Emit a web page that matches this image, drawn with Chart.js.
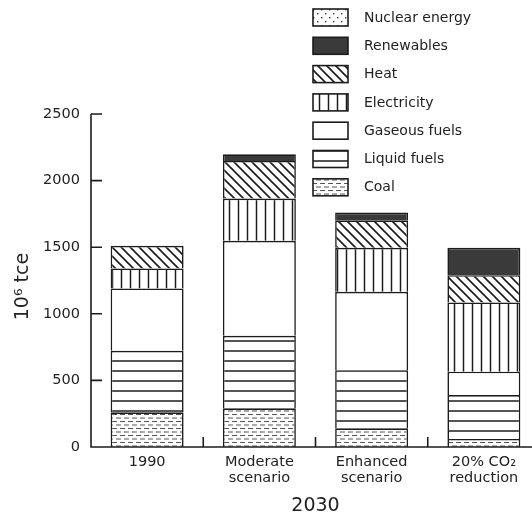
<!DOCTYPE html>
<html><head><meta charset="utf-8">
<script src="https://cdn.jsdelivr.net/npm/chart.js@4/dist/chart.umd.min.js"></script>
<style>
html,body{margin:0;padding:0;background:#fff;overflow:hidden;width:532px;height:516px}
#wrap{position:relative;width:548px;height:516px}
</style></head><body><div id="wrap"><canvas id="c" width="548" height="516"></canvas></div>
<script>
// ---- data ----
const categories = [['1990'], ['Moderate', 'scenario'], ['Enhanced', 'scenario'], ['20% CO\u2082', 'reduction']];
const coal = [260, 290, 140, 60];
const liquidFuels = [462, 545, 437, 330];
const gaseousFuels = [468, 713, 588, 175];
const electricity = [150, 317, 330, 520];
const heat = [170, 283, 207, 205];
const renewables = [0, 49, 58, 205];
const nuclearEnergy = [0, 0, 0, 0];
const yTicks = [0, 500, 1000, 1500, 2000, 2500];
const seriesLabels = ['Coal', 'Liquid fuels', 'Gaseous fuels', 'Electricity', 'Heat', 'Renewables', 'Nuclear energy'];
const seriesData = [coal, liquidFuels, gaseousFuels, electricity, heat, renewables, nuclearEnergy];
const xTitle = '2030';
const yTitle = '10\u2076 tce\u00a0\u00a0';

// ---- patterns ----
const INK = '#1c1c1c';
function makePattern(w, h, draw) {
  const c = document.createElement('canvas');
  c.width = w; c.height = h;
  const g = c.getContext('2d');
  g.fillStyle = '#fff'; g.fillRect(0, 0, w, h);
  draw(g, w, h);
  return g.createPattern(c, 'repeat');
}
const ctx0 = document.getElementById('c').getContext('2d');
const patCoal = makePattern(8, 7, (g) => {
  g.strokeStyle = '#555'; g.lineWidth = 1;
  g.beginPath();
  g.moveTo(0, 1.5); g.lineTo(5, 1.5);
  g.moveTo(4, 5); g.lineTo(8, 5); g.moveTo(0, 5); g.lineTo(1, 5);
  g.stroke();
});
const patLiquid = makePattern(10, 10, (g) => {
  g.strokeStyle = INK; g.lineWidth = 1.5;
  g.beginPath(); g.moveTo(0, 1); g.lineTo(10, 1); g.stroke();
});
const patElec = makePattern(9, 10, (g) => {
  g.strokeStyle = INK; g.lineWidth = 1.5;
  g.beginPath(); g.moveTo(4.5, 0); g.lineTo(4.5, 10); g.stroke();
});
const patHeat = makePattern(9, 9, (g) => {
  g.strokeStyle = INK; g.lineWidth = 1.6;
  g.beginPath();
  g.moveTo(-1, -1); g.lineTo(10, 10);
  g.moveTo(-1, 8); g.lineTo(1, 10);
  g.moveTo(8, -1); g.lineTo(10, 1);
  g.stroke();
});
const patNuclear = makePattern(8, 8, (g) => {
  g.fillStyle = '#333';
  g.fillRect(1, 1, 1.4, 1.4);
  g.fillRect(5, 5, 1.4, 1.4);
});
const fills = [patCoal, patLiquid, '#ffffff', patElec, patHeat, '#3a3a3a', patNuclear];

const FAMILY = '"DejaVu Sans", sans-serif';

const axesPlugin = {
  id: 'axesDraw',
  afterDatasetsDraw(chart) {
    const { ctx, scales: { x, y }, chartArea } = chart;
    ctx.save();
    ctx.strokeStyle = INK; ctx.lineWidth = 1.6;
    const x0 = chartArea.left;
    const yb = y.getPixelForValue(0), yt = y.getPixelForValue(yTicks[yTicks.length - 1]);
    ctx.beginPath();
    ctx.moveTo(x0, yt); ctx.lineTo(x0, yb); ctx.lineTo(chartArea.right, yb);
    yTicks.forEach(v => { const py = y.getPixelForValue(v); ctx.moveTo(x0, py); ctx.lineTo(x0 + 11, py); });
    const n = x.getLabels().length, w = (x.right - x.left) / n;
    for (let i = 1; i < n; i++) { const px = x.left + i * w; ctx.moveTo(px, yb); ctx.lineTo(px, yb - 10); }
    ctx.stroke();
    ctx.restore();
  }
};

const legendPlugin = {
  id: 'boxLegend',
  afterDraw(chart) {
    const { ctx } = chart;
    const ds = chart.data.datasets.slice().reverse();
    ctx.save();
    ctx.font = '14px ' + FAMILY;
    ctx.textBaseline = 'middle';
    ctx.textAlign = 'left';
    ds.forEach((d, i) => {
      const bx = 313, by = 9 + i * 28.3, bw = 35, bh = 17;
      ctx.fillStyle = d.backgroundColor;
      ctx.fillRect(bx, by, bw, bh);
      ctx.strokeStyle = INK; ctx.lineWidth = 1.6;
      ctx.strokeRect(bx, by, bw, bh);
      ctx.fillStyle = '#222';
      ctx.fillText(d.label, 364, by + bh / 2 + 0.5);
    });
    ctx.restore();
  }
};

new Chart(ctx0, {
  type: 'bar',
  data: {
    labels: categories,
    datasets: seriesLabels.map((l, i) => ({
      label: l,
      data: seriesData[i],
      backgroundColor: fills[i],
      borderColor: INK,
      borderWidth: 1.6,
      borderSkipped: 'start',
      barPercentage: 0.65,
      categoryPercentage: 1
    }))
  },
  options: {
    responsive: false,
    animation: false,
    devicePixelRatio: 1,
    layout: { padding: { top: 114, right: 8, left: 0, bottom: 0 } },
    plugins: { legend: { display: false }, tooltip: { enabled: false } },
    scales: {
      x: {
        stacked: true,
        grid: { display: false, drawTicks: false },
        border: { display: false },
        ticks: { color: '#222', font: { family: FAMILY, size: 14.5, lineHeight: 1.1 }, padding: 7, maxRotation: 0, autoSkip: false },
        title: { display: true, text: xTitle, color: '#222', font: { family: FAMILY, size: 19, lineHeight: 1 }, padding: { top: 0, bottom: 0 } },
        afterFit(s) { s.height = 69; }
      },
      y: {
        stacked: true,
        min: 0, max: 2500,
        afterBuildTicks(s) { s.ticks = yTicks.map(v => ({ value: v })); },
        grid: { display: false, drawTicks: false },
        border: { display: false },
        ticks: { color: '#222', font: { family: FAMILY, size: 14.5 }, padding: 11, callback: (v) => String(v) },
        title: { display: true, text: yTitle, color: '#222', font: { family: FAMILY, size: 19, lineHeight: 1 }, padding: { top: 14, bottom: 0 } },
        afterFit(s) { s.width = 91; }
      }
    }
  },
  plugins: [axesPlugin, legendPlugin]
});
</script></body></html>
